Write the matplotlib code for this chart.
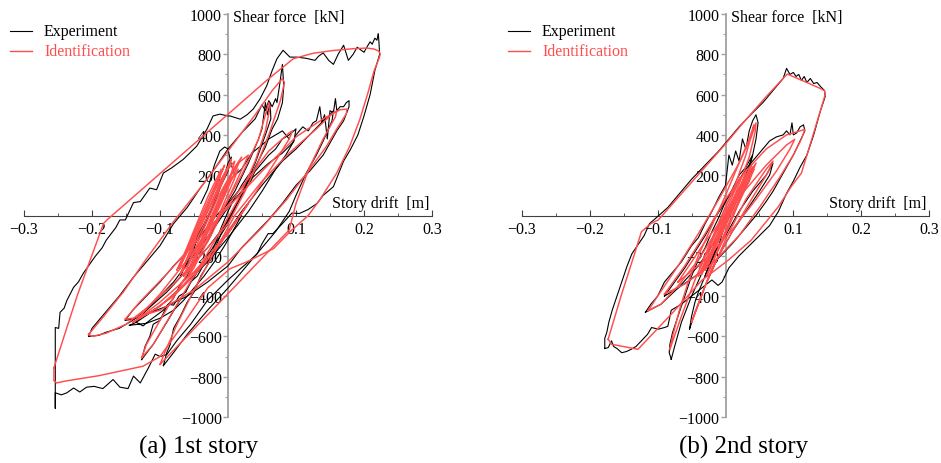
import matplotlib.pyplot as plt
from matplotlib.lines import Line2D
from matplotlib.ticker import MultipleLocator

plt.rcParams['font.family'] = ['Liberation Serif', 'DejaVu Serif']

RED = '#ff4d4d'
GREY = '#a0a0a0'

x_ticks = [-0.3, -0.2, -0.1, 0.1, 0.2, 0.3]
x_labels = ['\u22120.3', '\u22120.2', '\u22120.1', '0.1', '0.2', '0.3']
y_ticks = [-1000, -800, -600, -400, -200, 200, 400, 600, 800, 1000]
y_labels = ['\u22121000', '\u2212800', '\u2212600', '\u2212400', '\u2212200',
            '200', '400', '600', '800', '1000']

# ---- (a) 1st story, (drift [m], force [kN]) ----
a_exp_outer = [(0.221, 900), (0.222, 860), (0.223, 800), (0.216, 720), (0.209, 600), (0.2, 494),
               (0.191, 400), (0.18, 327), (0.17, 270), (0.155, 143), (0.14, 100), (0.131, 60),
               (0.118, 30), (0.105, 10), (0.094, 12), (0.08, -40), (0.066, -90), (0.059, -90),
               (0.05, -140), (0.043, -190), (0.03, -230), (0.018, -265), (0.0, -320), (-0.03, -420),
               (-0.055, -540), (-0.075, -620), (-0.09, -690), (-0.1, -700), (-0.107, -688),
               (-0.117, -756), (-0.129, -831), (-0.139, -797), (-0.147, -859), (-0.159, -852),
               (-0.169, -814), (-0.184, -859), (-0.197, -848), (-0.208, -852), (-0.218, -876),
               (-0.227, -856), (-0.237, -880), (-0.245, -890), (-0.254, -880), (-0.254, -957),
               (-0.254, -556), (-0.249, -560), (-0.247, -481), (-0.241, -460), (-0.237, -422),
               (-0.227, -356), (-0.22, -330), (-0.213, -288), (-0.196, -206), (-0.185, -160),
               (-0.179, -122), (-0.165, -60), (-0.159, -22), (-0.151, -22), (-0.139, 64),
               (-0.129, 69), (-0.115, 136), (-0.105, 128), (-0.095, 211), (-0.083, 236),
               (-0.066, 278), (-0.046, 344), (-0.031, 428), (-0.022, 494), (-0.012, 503),
               (0.0, 494), (0.003, 494), (0.018, 478), (0.028, 500), (0.037, 528), (0.047, 578),
               (0.057, 644), (0.065, 720), (0.072, 778), (0.081, 820), (0.091, 786), (0.101, 786),
               (0.115, 780), (0.128, 770), (0.133, 790), (0.14, 807), (0.148, 770), (0.155, 750),
               (0.162, 800), (0.17, 845), (0.177, 770), (0.184, 800), (0.19, 835), (0.2, 810),
               (0.205, 840), (0.209, 862), (0.212, 850), (0.216, 880), (0.219, 870), (0.221, 900)]
a_exp_2 = [(-0.205, -600), (-0.2, -560), (-0.185, -500), (-0.16, -400), (-0.14, -310), (-0.12, -230),
           (-0.1, -150), (-0.08, -40), (-0.06, 40), (-0.04, 140), (-0.02, 230), (0.0, 330),
           (0.02, 410), (0.04, 480), (0.05, 550), (0.055, 520), (0.06, 570), (0.065, 540),
           (0.07, 580), (0.072, 560), (0.076, 650), (0.08, 750), (0.082, 640), (0.08, 560),
           (0.073, 480), (0.065, 430), (0.055, 340), (0.04, 240), (0.02, 100), (0.0, -30),
           (-0.03, -160), (-0.06, -270), (-0.09, -380), (-0.12, -470), (-0.14, -520),
           (-0.16, -560), (-0.18, -580), (-0.19, -595), (-0.205, -600)]
a_exp_3 = [(-0.151, -520), (-0.14, -470), (-0.12, -400), (-0.1, -330), (-0.08, -250), (-0.06, -180),
           (-0.04, -100), (-0.02, -10), (0.0, 60), (0.02, 140), (0.04, 200), (0.06, 260), (0.08, 310),
           (0.095, 360), (0.1, 400), (0.11, 440), (0.118, 420), (0.125, 460), (0.13, 470),
           (0.135, 540), (0.138, 460), (0.142, 500), (0.146, 380), (0.15, 520), (0.155, 510),
           (0.158, 580), (0.16, 520), (0.165, 540), (0.17, 540), (0.174, 560), (0.178, 570),
           (0.178, 540), (0.17, 470), (0.16, 420), (0.15, 360), (0.14, 300), (0.12, 220),
           (0.1, 150), (0.08, 60), (0.06, -20), (0.04, -90), (0.02, -160), (0.0, -250),
           (-0.03, -330), (-0.06, -400), (-0.09, -450), (-0.12, -490), (-0.14, -515), (-0.151, -520)]
a_exp_4 = [(-0.095, -745), (-0.09, -680), (-0.085, -640), (-0.08, -560), (-0.07, -500), (-0.06, -430),
           (-0.05, -380), (-0.04, -300), (-0.02, -190), (0.0, -80), (0.02, 20), (0.05, 150),
           (0.08, 270), (0.1, 330), (0.12, 400), (0.14, 470), (0.15, 500), (0.155, 520),
           (0.153, 470), (0.14, 370), (0.13, 300), (0.115, 210), (0.1, 100), (0.09, 20),
           (0.07, -80), (0.05, -160), (0.03, -240), (0.0, -360), (-0.03, -470), (-0.06, -590),
           (-0.08, -680), (-0.095, -745)]
a_exp_5 = [(-0.127, -715), (-0.122, -650), (-0.115, -600), (-0.11, -540), (-0.1, -520), (-0.09, -450),
           (-0.08, -410), (-0.07, -340), (-0.06, -300), (-0.05, -220), (-0.03, -130), (-0.01, 10),
           (0.01, 120), (0.03, 260), (0.045, 380), (0.05, 430), (0.055, 560), (0.058, 500),
           (0.062, 560), (0.063, 480), (0.055, 400), (0.04, 260), (0.02, 110), (0.0, -40),
           (-0.03, -200), (-0.06, -360), (-0.09, -530), (-0.11, -640), (-0.127, -715)]
a_exp_6 = [(-0.135, -530), (-0.12, -470), (-0.1, -400), (-0.08, -330), (-0.06, -240), (-0.04, -150),
           (-0.02, -60), (0.0, 40), (0.02, 120), (0.04, 220), (0.06, 300), (0.07, 330), (0.08, 380),
           (0.09, 400), (0.1, 430), (0.097, 370), (0.085, 300), (0.07, 230), (0.05, 120),
           (0.03, 20), (0.0, -110), (-0.03, -230), (-0.06, -330), (-0.1, -450), (-0.135, -530)]
a_exp_7 = [(-0.04, 60), (-0.03, 130), (-0.02, 250), (-0.012, 320), (-0.005, 340), (0.0, 330),
           (0.005, 250), (0.01, 200), (0.02, 230), (0.035, 310), (0.05, 350), (0.06, 380),
           (0.07, 400), (0.08, 420), (0.09, 380)]
a_exp_8 = [(-0.145, -545), (-0.135, -530), (-0.125, -548), (-0.115, -520), (-0.105, -495),
           (-0.095, -470), (-0.088, -440), (-0.08, -445), (-0.072, -400), (-0.062, -380),
           (-0.055, -330), (-0.045, -300), (-0.035, -240), (-0.025, -200), (-0.012, -130),
           (0.0, -90), (0.012, -30), (0.02, 0), (0.01, -60), (-0.005, -150), (-0.02, -230),
           (-0.035, -300), (-0.05, -360), (-0.065, -420), (-0.08, -470), (-0.1, -510),
           (-0.12, -535), (-0.145, -545)]
a_exp_c1 = [(-0.07, -300), (-0.06, -230), (-0.05, -170), (-0.045, -100), (-0.035, -40), (-0.025, 30),
            (-0.015, 120), (-0.005, 200), (0.0, 260), (0.005, 290), (0.0, 220), (-0.01, 150),
            (-0.02, 60), (-0.03, -10), (-0.04, -90), (-0.05, -150), (-0.06, -220), (-0.07, -300)]
a_exp_c2 = [(-0.03, -240), (-0.02, -150), (-0.01, -60), (0.0, 20), (0.01, 90), (0.02, 150),
            (0.03, 200), (0.04, 230), (0.035, 180), (0.02, 100), (0.0, -20), (-0.01, -90),
            (-0.02, -170), (-0.03, -240)]

a_idf_outer = [(-0.256, -756), (-0.222, -400), (-0.183, -39), (-0.178, -22), (-0.1, 208), (-0.046, 367),
               (0.008, 526), (0.057, 671), (0.096, 778), (0.125, 805), (0.155, 819), (0.185, 828),
               (0.204, 831), (0.215, 826), (0.222, 815), (0.224, 800), (0.221, 770), (0.215, 720),
               (0.206, 611), (0.194, 478), (0.179, 344), (0.16, 211), (0.135, 78), (0.118, 0),
               (0.091, -81), (0.067, -164), (0.027, -231), (0.003, -264), (-0.03, -360),
               (-0.07, -560), (-0.1, -700), (-0.125, -748), (-0.19, -795), (-0.24, -822),
               (-0.252, -831), (-0.256, -820), (-0.256, -756)]
a_idf_2 = [(-0.205, -590), (-0.19, -530), (-0.154, -380), (-0.12, -215), (-0.08, -30), (-0.04, 140),
           (0.0, 320), (0.04, 500), (0.065, 620), (0.08, 680), (0.083, 660), (0.077, 570),
           (0.062, 420), (0.045, 270), (0.025, 120), (0.0, -40), (-0.04, -200), (-0.08, -340),
           (-0.12, -460), (-0.15, -540), (-0.18, -585), (-0.2, -600), (-0.205, -590)]
a_idf_3 = [(-0.151, -514), (-0.13, -430), (-0.09, -290), (-0.05, -140), (0.0, 40), (0.05, 220),
           (0.1, 390), (0.14, 480), (0.165, 525), (0.175, 528), (0.174, 505), (0.16, 430),
           (0.145, 344), (0.116, 211), (0.086, 78), (0.05, -60), (0.0, -230), (-0.05, -370),
           (-0.1, -470), (-0.14, -510), (-0.151, -514)]
a_idf_4 = [(-0.1, -739), (-0.093, -680), (-0.075, -540), (-0.05, -370), (-0.02, -180), (0.01, 0),
           (0.05, 170), (0.09, 310), (0.13, 430), (0.155, 510), (0.16, 520), (0.158, 490),
           (0.14, 380), (0.12, 240), (0.1, 60), (0.09, -72), (0.05, -212), (0.0, -388),
           (-0.05, -563), (-0.1, -739)]
a_idf_5 = [(-0.127, -706), (-0.12, -640), (-0.1, -520), (-0.07, -350), (-0.04, -170), (-0.01, 20),
           (0.02, 200), (0.045, 380), (0.06, 560), (0.062, 540), (0.055, 420), (0.04, 270),
           (0.015, 80), (-0.015, -100), (-0.05, -300), (-0.08, -470), (-0.11, -640), (-0.127, -706)]
a_idf_6 = [(-0.135, -520), (-0.1, -390), (-0.06, -220), (-0.02, -40), (0.02, 140), (0.06, 320),
           (0.09, 410), (0.095, 420), (0.09, 380), (0.07, 270), (0.04, 110), (0.0, -90),
           (-0.05, -280), (-0.1, -430), (-0.135, -520)]
a_idf_7 = [(-0.14, -530), (-0.11, -470), (-0.08, -400), (-0.05, -300), (-0.02, -180), (0.01, -40),
           (0.03, 60), (0.02, 10), (-0.01, -120), (-0.04, -250), (-0.07, -360), (-0.1, -450),
           (-0.14, -530)]
a_idf_c1 = [(-0.07, -290), (-0.05, -130), (-0.03, 20), (-0.01, 170), (0.005, 280), (0.0, 230),
            (-0.02, 70), (-0.04, -80), (-0.06, -220), (-0.07, -290)]
a_idf_c2 = [(-0.065, -300), (-0.04, -100), (-0.015, 90), (0.01, 240), (0.02, 290), (0.012, 230),
            (-0.01, 60), (-0.035, -120), (-0.055, -260), (-0.065, -300)]
a_idf_c3 = [(-0.075, -270), (-0.055, -120), (-0.035, 30), (-0.015, 180), (-0.005, 250),
            (-0.012, 190), (-0.03, 40), (-0.05, -100), (-0.068, -230), (-0.075, -270)]
a_idf_c4 = [(-0.06, -280), (-0.035, -90), (-0.01, 110), (0.015, 260), (0.03, 300), (0.022, 240),
            (0.0, 80), (-0.025, -100), (-0.05, -250), (-0.06, -280)]
a_idf_c5 = [(-0.05, -220), (-0.03, -60), (-0.01, 90), (0.005, 190), (0.0, 140), (-0.02, 0),
            (-0.04, -140), (-0.05, -220)]
a_idf_c6 = [(-0.07, -250), (-0.045, -60), (-0.02, 120), (0.0, 240), (-0.008, 170), (-0.03, 20),
            (-0.055, -150), (-0.07, -250)]
a_idf_c7 = [(-0.068, -280), (-0.048, -110), (-0.025, 60), (-0.005, 210), (0.01, 270), (0.004, 200),
            (-0.015, 60), (-0.038, -110), (-0.06, -250), (-0.068, -280)]
a_idf_c8 = [(-0.058, -300), (-0.04, -160), (-0.02, 0), (0.0, 150), (0.015, 230), (0.008, 170),
            (-0.01, 30), (-0.03, -120), (-0.05, -260), (-0.058, -300)]
a_idf_c9 = [(-0.072, -260), (-0.052, -90), (-0.03, 90), (-0.01, 230), (-0.016, 160), (-0.036, 0),
            (-0.058, -160), (-0.072, -260)]

# ---- (b) 2nd story ----
b_exp_outer = [(-0.178, -660), (-0.178, -610), (-0.175, -580), (-0.172, -530), (-0.167, -470),
               (-0.16, -400), (-0.152, -320), (-0.145, -250), (-0.138, -190), (-0.13, -150),
               (-0.12, -100), (-0.112, -40), (-0.105, -20), (-0.095, 10), (-0.085, 40), (-0.07, 100),
               (-0.05, 180), (-0.03, 250), (-0.01, 320), (0.0, 360), (0.02, 440), (0.04, 510),
               (0.055, 560), (0.065, 600), (0.075, 640), (0.085, 680), (0.09, 730), (0.095, 700),
               (0.1, 710), (0.104, 690), (0.108, 700), (0.112, 670), (0.116, 690), (0.12, 660),
               (0.125, 680), (0.13, 655), (0.135, 660), (0.14, 640), (0.146, 620), (0.147, 590),
               (0.14, 520), (0.13, 400), (0.12, 300), (0.11, 240), (0.1, 170), (0.09, 110),
               (0.078, 20), (0.065, -50), (0.05, -100), (0.035, -150), (0.02, -200), (0.005, -260),
               (-0.005, -330), (-0.011, -347), (-0.02, -320), (-0.035, -360), (-0.05, -400),
               (-0.065, -440), (-0.08, -470), (-0.085, -550), (-0.09, -556), (-0.099, -564),
               (-0.109, -556), (-0.115, -590), (-0.124, -622), (-0.132, -650), (-0.139, -664),
               (-0.146, -675), (-0.153, -681), (-0.16, -660), (-0.165, -650), (-0.168, -622),
               (-0.173, -656), (-0.178, -660)]
b_exp_2 = [(-0.118, -480), (-0.11, -440), (-0.1, -400), (-0.09, -330), (-0.08, -290), (-0.065, -230),
           (-0.05, -150), (-0.04, -110), (-0.03, -40), (-0.02, 20), (-0.01, 90), (0.0, 150),
           (0.005, 300), (0.01, 250), (0.015, 320), (0.02, 270), (0.025, 380), (0.03, 330),
           (0.035, 420), (0.04, 470), (0.045, 500), (0.048, 460), (0.045, 380), (0.04, 300),
           (0.03, 200), (0.02, 100), (0.0, -50), (-0.02, -150), (-0.04, -250), (-0.07, -360),
           (-0.095, -440), (-0.118, -480)]
b_exp_3 = [(-0.09, -400), (-0.075, -330), (-0.06, -260), (-0.045, -180), (-0.03, -100), (-0.015, -10),
           (0.0, 70), (0.015, 150), (0.03, 230), (0.045, 290), (0.055, 330), (0.065, 370),
           (0.075, 390), (0.085, 400), (0.09, 420), (0.095, 400), (0.098, 460), (0.1, 400),
           (0.105, 410), (0.11, 440), (0.115, 450), (0.117, 420), (0.11, 370), (0.1, 300),
           (0.09, 240), (0.08, 180), (0.07, 120), (0.06, 70), (0.045, 0), (0.03, -60),
           (0.01, -140), (-0.01, -210), (-0.04, -290), (-0.07, -360), (-0.09, -400)]
b_exp_5 = [(-0.08, -714), (-0.083, -680), (-0.082, -640), (-0.078, -580), (-0.072, -520),
           (-0.065, -450), (-0.058, -380), (-0.05, -300), (-0.04, -220), (-0.03, -160),
           (-0.02, -80), (-0.01, -10), (0.0, 70), (0.01, 130), (0.02, 200), (0.03, 240),
           (0.04, 300), (0.035, 230), (0.025, 150), (0.01, 40), (-0.01, -100), (-0.03, -250),
           (-0.05, -400), (-0.065, -530), (-0.075, -650), (-0.08, -714)]
b_exp_6 = [(-0.053, -564), (-0.05, -500), (-0.045, -430), (-0.04, -380), (-0.03, -300), (-0.02, -220),
           (0.0, -100), (0.02, 20), (0.04, 120), (0.06, 200), (0.07, 260), (0.065, 200),
           (0.05, 120), (0.03, 20), (0.01, -80), (-0.01, -200), (-0.03, -350), (-0.045, -480),
           (-0.053, -564)]
b_exp_c1 = [(-0.03, -300), (-0.02, -200), (-0.01, -150), (0.0, -30), (0.01, 40), (0.02, 120),
            (0.03, 160), (0.04, 240), (0.035, 170), (0.025, 120), (0.015, 30), (0.0, -90),
            (-0.015, -180), (-0.03, -300)]

b_idf_outer = [(-0.173, -614), (-0.154, -400), (-0.134, -189), (-0.124, -81), (-0.11, -40),
               (-0.099, -22), (-0.05, 165), (0.0, 355), (0.024, 452), (0.06, 590), (0.091, 702),
               (0.12, 660), (0.14, 630), (0.146, 619), (0.147, 600), (0.13, 410), (0.112, 211),
               (0.097, 144), (0.078, 44), (0.038, -122), (0.004, -222), (-0.035, -322),
               (-0.08, -490), (-0.129, -664), (-0.168, -639), (-0.173, -614)]
b_idf_2 = [(-0.114, -472), (-0.1, -400), (-0.07, -250), (-0.04, -90), (-0.01, 80), (0.02, 260),
           (0.038, 390), (0.045, 460), (0.044, 420), (0.035, 290), (0.015, 110), (-0.01, -60),
           (-0.04, -220), (-0.07, -350), (-0.095, -440), (-0.114, -472)]
b_idf_3 = [(-0.09, -390), (-0.06, -250), (-0.03, -90), (0.0, 80), (0.03, 220), (0.06, 330),
           (0.09, 400), (0.117, 427), (0.112, 380), (0.1, 300), (0.08, 190), (0.05, 40),
           (0.02, -100), (-0.02, -240), (-0.06, -340), (-0.09, -390)]
b_idf_4 = [(-0.07, -330), (-0.03, -130), (0.02, 90), (0.06, 250), (0.09, 350), (0.102, 378),
           (0.095, 330), (0.075, 220), (0.045, 80), (0.01, -70), (-0.03, -220), (-0.07, -330)]
b_idf_5 = [(-0.082, -664), (-0.078, -600), (-0.068, -470), (-0.055, -330), (-0.04, -200),
           (-0.02, -50), (0.0, 100), (0.02, 260), (0.035, 380), (0.042, 450), (0.04, 420),
           (0.03, 300), (0.015, 160), (-0.005, 0), (-0.025, -160), (-0.045, -320),
           (-0.065, -500), (-0.082, -664)]
b_idf_6 = [(-0.05, -530), (-0.03, -350), (0.0, -120), (0.03, 80), (0.06, 230), (0.07, 270),
           (0.062, 210), (0.04, 90), (0.01, -80), (-0.02, -260), (-0.05, -530)]
b_idf_c1 = [(-0.035, -290), (-0.015, -130), (0.005, 30), (0.025, 160), (0.045, 260), (0.04, 220),
            (0.02, 100), (0.0, -50), (-0.02, -190), (-0.035, -290)]
b_idf_c2 = [(-0.03, -270), (-0.01, -100), (0.01, 60), (0.03, 190), (0.04, 240), (0.035, 200),
            (0.015, 70), (-0.005, -90), (-0.025, -230), (-0.03, -270)]
b_idf_c3 = [(-0.04, -300), (-0.02, -150), (0.0, 0), (0.02, 130), (0.035, 230), (0.03, 180),
            (0.01, 40), (-0.01, -110), (-0.03, -240), (-0.04, -300)]
b_idf_c4 = [(-0.025, -240), (-0.005, -80), (0.015, 90), (0.03, 210), (0.025, 170), (0.005, 20),
            (-0.015, -130), (-0.025, -240)]
b_idf_c5 = [(-0.02, -180), (0.0, -20), (0.02, 120), (0.038, 250), (0.032, 200), (0.012, 60),
            (-0.01, -100), (-0.02, -180)]
b_idf_c6 = [(-0.038, -260), (-0.018, -100), (0.002, 60), (0.022, 190), (0.016, 140), (-0.004, -10),
            (-0.025, -170), (-0.038, -260)]
b_idf_c7 = [(-0.028, -300), (-0.008, -140), (0.012, 20), (0.032, 170), (0.042, 230), (0.036, 180),
            (0.018, 50), (-0.002, -110), (-0.02, -240), (-0.028, -300)]

a_exp = [a_exp_outer, a_exp_2, a_exp_3, a_exp_4, a_exp_5, a_exp_6, a_exp_7, a_exp_8,
         a_exp_c1, a_exp_c2]
a_idf = [a_idf_outer, a_idf_2, a_idf_3, a_idf_4, a_idf_5, a_idf_6, a_idf_7,
         a_idf_c1, a_idf_c2, a_idf_c3, a_idf_c4, a_idf_c5, a_idf_c6, a_idf_c7, a_idf_c8, a_idf_c9]
b_exp = [b_exp_outer, b_exp_2, b_exp_3, b_exp_5, b_exp_6, b_exp_c1]
b_idf = [b_idf_outer, b_idf_2, b_idf_3, b_idf_4, b_idf_5, b_idf_6,
         b_idf_c1, b_idf_c2, b_idf_c3, b_idf_c4, b_idf_c5, b_idf_c6, b_idf_c7]


def draw(ax, loops, color, lw):
    for loop in loops:
        ax.plot([p[0] for p in loop], [p[1] for p in loop], color=color, lw=lw, zorder=3)


def style(ax):
    ax.set_xlim(-0.3, 0.3)
    ax.set_ylim(-1000, 1000)
    ax.patch.set_visible(False)
    for s in ['top', 'right']:
        ax.spines[s].set_visible(False)
    ax.spines['left'].set_position(('data', 0))
    ax.spines['bottom'].set_position(('data', 0))
    ax.spines['left'].set_color(GREY)
    ax.spines['left'].set_linewidth(1.3)
    ax.spines['bottom'].set_color('#404040')
    ax.spines['bottom'].set_linewidth(0.8)
    ax.set_xticks(x_ticks)
    ax.set_xticklabels(x_labels)
    ax.set_yticks(y_ticks)
    ax.set_yticklabels(y_labels)
    ax.xaxis.set_minor_locator(MultipleLocator(0.05))
    ax.yaxis.set_minor_locator(MultipleLocator(100))
    ax.tick_params(axis='x', which='major', direction='in', length=4, width=0.8,
                   color='#404040', labelsize=11.5, pad=4)
    ax.tick_params(axis='x', which='minor', direction='in', length=2.5, width=0.6, color='#404040')
    ax.tick_params(axis='y', which='major', direction='out', length=3.5, width=1.0,
                   color=GREY, labelsize=11.5, pad=1)
    ax.tick_params(axis='y', which='minor', direction='out', length=2, width=0.8, color=GREY)
    ax.text(0.008, 985, 'Shear force  [kN]', fontsize=11.5, ha='left', va='center')
    ax.text(0.297, 62, 'Story drift  [m]', fontsize=11.5, ha='right', va='center')


fig = plt.figure(figsize=(9.41, 4.64), dpi=100)
W, H = 941, 464
ax_a = fig.add_axes([24 / W, 1 - 418 / H, 408 / W, 403 / H])
ax_b = fig.add_axes([522 / W, 1 - 418 / H, 407 / W, 403 / H])

for ax, exp, idf in [(ax_a, a_exp, a_idf), (ax_b, b_exp, b_idf)]:
    style(ax)
    draw(ax, exp, 'black', 0.8)
    draw(ax, idf, RED, 1.05)

# legends
for x0, x1, xt in [(10, 32, 44), (508, 530, 542)]:
    fig.add_artist(Line2D([x0 / W, x1 / W], [1 - 32 / H] * 2, color='black', lw=0.8))
    fig.text(xt / W, 1 - 32 / H, 'Experiment', fontsize=11.5, va='center')
    fig.add_artist(Line2D([x0 / W, x1 / W], [1 - 52 / H] * 2, color=RED, lw=1.0))
    fig.text(xt / W, 1 - 52 / H, 'Identification', fontsize=11.5, va='center', color=RED)

fig.text(199 / W, 1 - 447 / H, '(a) 1st story', fontsize=18, ha='center', va='center')
fig.text(744 / W, 1 - 447 / H, '(b) 2nd story', fontsize=18, ha='center', va='center')

fig.savefig('out.png', dpi=100)
